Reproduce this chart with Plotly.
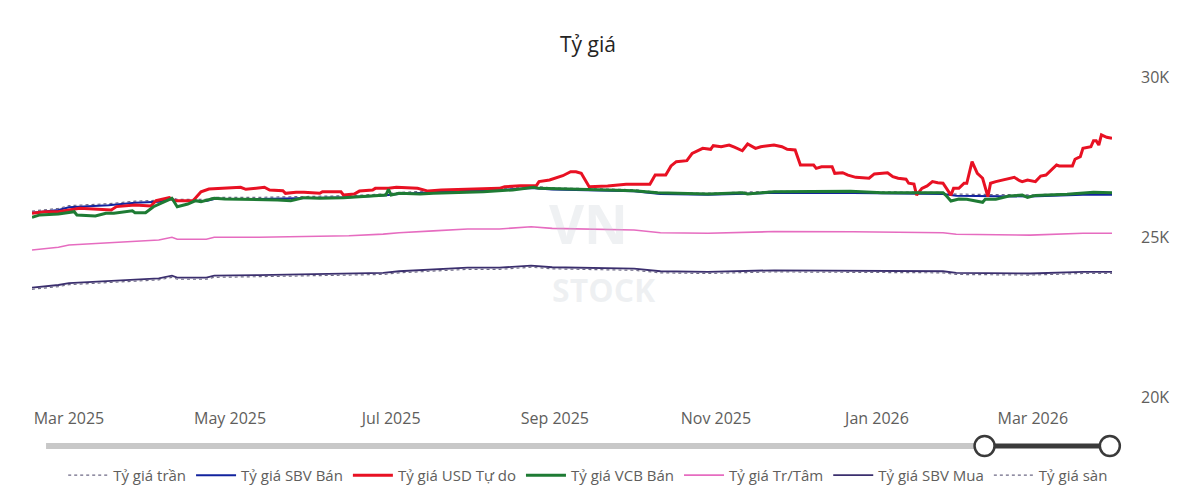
import plotly.graph_objects as go

# ---------------- data ----------------
ref_dates = ["2025-03-01", "2025-03-11", "2025-03-15", "2025-03-30", "2025-04-09", "2025-04-18",
             "2025-04-23", "2025-04-25", "2025-05-06", "2025-05-09", "2025-05-26", "2025-06-12",
             "2025-06-29", "2025-07-12", "2025-07-18", "2025-07-31", "2025-08-13", "2025-08-25",
             "2025-09-06", "2025-09-14", "2025-09-25", "2025-10-15", "2025-10-25", "2025-11-12",
             "2025-12-07", "2026-01-06", "2026-02-09", "2026-02-14", "2026-03-14", "2026-04-03",
             "2026-04-14"]

tran = [25810, 25895, 25980, 26040, 26120, 26150, 26240, 26175, 26175, 26240, 26240, 26260,
        26290, 26345, 26390, 26450, 26510, 26510, 26585, 26535, 26510, 26480, 26390, 26370,
        26430, 26425, 26390, 26340, 26315, 26370, 26370]

sbv_ban = [25760, 25845, 25930, 25990, 26070, 26100, 26190, 26125, 26125, 26190, 26190, 26210,
           26240, 26295, 26340, 26400, 26460, 26460, 26535, 26485, 26460, 26430, 26340, 26320,
           26380, 26375, 26340, 26290, 26265, 26320, 26320]

trung_tam = [24595, 24680, 24750, 24820, 24865, 24905, 24990, 24930, 24930, 24990, 24990, 25010,
             25040, 25090, 25135, 25190, 25250, 25250, 25320, 25270, 25250, 25220, 25135, 25115,
             25170, 25165, 25135, 25085, 25060, 25115, 25115]

sbv_mua = [23415, 23500, 23560, 23635, 23680, 23710, 23790, 23730, 23730, 23790, 23810, 23835,
           23840, 23880, 23930, 23980, 24040, 24040, 24105, 24055, 24040, 24010, 23930, 23910,
           23960, 23955, 23930, 23880, 23860, 23910, 23910]

san = [23365, 23450, 23510, 23585, 23630, 23660, 23740, 23680, 23680, 23740, 23760, 23785,
       23790, 23830, 23880, 23930, 23990, 23990, 24055, 24005, 23990, 23960, 23880, 23860,
       23910, 23905, 23880, 23830, 23810, 23860, 23860]

usd_dates = ["2025-03-01", "2025-03-06", "2025-03-11", "2025-03-15", "2025-03-19", "2025-03-31",
             "2025-04-02", "2025-04-09", "2025-04-15", "2025-04-17", "2025-04-22", "2025-04-24",
             "2025-05-01", "2025-05-04", "2025-05-07", "2025-05-19", "2025-05-21", "2025-05-28",
             "2025-05-30", "2025-06-04", "2025-06-05", "2025-06-09", "2025-06-12", "2025-06-18",
             "2025-06-19", "2025-06-26", "2025-06-27", "2025-07-01", "2025-07-03", "2025-07-08",
             "2025-07-09", "2025-07-14", "2025-07-17", "2025-07-25", "2025-07-29", "2025-08-03",
             "2025-08-13", "2025-08-25", "2025-08-27", "2025-09-02", "2025-09-08", "2025-09-09",
             "2025-09-13", "2025-09-18", "2025-09-21", "2025-09-23", "2025-09-25", "2025-09-28",
             "2025-10-05", "2025-10-12", "2025-10-21", "2025-10-23", "2025-10-27", "2025-10-29",
             "2025-10-31", "2025-11-04", "2025-11-06", "2025-11-10", "2025-11-13", "2025-11-14",
             "2025-11-17", "2025-11-20", "2025-11-22", "2025-11-25", "2025-11-27", "2025-11-30",
             "2025-12-02", "2025-12-07", "2025-12-10", "2025-12-12", "2025-12-15", "2025-12-17",
             "2025-12-22", "2025-12-23", "2025-12-25", "2025-12-29", "2025-12-30", "2026-01-02",
             "2026-01-04", "2026-01-07", "2026-01-12", "2026-01-14", "2026-01-19", "2026-01-21",
             "2026-01-23", "2026-01-26", "2026-01-27", "2026-01-29", "2026-01-30", "2026-02-01",
             "2026-02-03", "2026-02-05", "2026-02-07", "2026-02-09", "2026-02-12", "2026-02-13",
             "2026-02-15", "2026-02-17", "2026-02-18", "2026-02-20", "2026-02-22", "2026-02-24",
             "2026-02-26", "2026-02-27", "2026-03-01", "2026-03-08", "2026-03-10", "2026-03-11",
             "2026-03-13", "2026-03-16", "2026-03-18", "2026-03-20", "2026-03-24", "2026-03-25",
             "2026-03-30", "2026-03-31", "2026-04-02", "2026-04-03", "2026-04-06", "2026-04-07",
             "2026-04-08", "2026-04-09", "2026-04-10", "2026-04-12", "2026-04-14"]

usd_tu_do = [25740, 25790, 25790, 25845, 25900, 25845,
             25950, 26000, 25970, 26135, 26230, 26135,
             26135, 26415, 26500, 26555, 26490, 26555,
             26470, 26445, 26365, 26395, 26395, 26365,
             26415, 26415, 26310, 26345, 26435, 26470,
             26520, 26520, 26555, 26520, 26435, 26470,
             26490, 26520, 26570, 26605, 26605, 26730,
             26780, 26915, 27040, 27040, 26990, 26570,
             26595, 26645, 26645, 26935, 26935, 27220,
             27355, 27385, 27615, 27770, 27740, 27855,
             27820, 27875, 27805, 27695, 27905, 27770,
             27820, 27875, 27820, 27740, 27720, 27250,
             27250, 27145, 27195, 27195, 26990, 27010,
             26935, 26865, 26835, 26970, 27010, 26885,
             26835, 26805, 26680, 26655, 26310, 26520,
             26595, 26730, 26695, 26680, 26310, 26520,
             26520, 26680, 26680, 27355, 26990, 26835,
             26260, 26680, 26730, 26865, 26760, 26730,
             26780, 26730, 26905, 26935, 27250, 27220,
             27220, 27430, 27510, 27770, 27820, 28010,
             28010, 27875, 28190, 28115, 28085]

vcb_dates = ["2025-03-01", "2025-03-04", "2025-03-11", "2025-03-17", "2025-03-18", "2025-03-25",
             "2025-03-29", "2025-04-01", "2025-04-08", "2025-04-09", "2025-04-13", "2025-04-16",
             "2025-04-20", "2025-04-23", "2025-04-25", "2025-04-29", "2025-05-02", "2025-05-04",
             "2025-05-09", "2025-05-13", "2025-06-02", "2025-06-07", "2025-06-12", "2025-06-18",
             "2025-06-27", "2025-07-06", "2025-07-13", "2025-07-14", "2025-07-15", "2025-07-18",
             "2025-07-26", "2025-07-31", "2025-08-09", "2025-08-19", "2025-08-30", "2025-09-07",
             "2025-09-09", "2025-09-23", "2025-10-05", "2025-10-15", "2025-10-24", "2025-11-12",
             "2025-11-25", "2025-11-27", "2025-12-07", "2026-01-05", "2026-01-17", "2026-02-09",
             "2026-02-10", "2026-02-12", "2026-02-15", "2026-02-18", "2026-02-24", "2026-02-25",
             "2026-03-01", "2026-03-06", "2026-03-11", "2026-03-13", "2026-03-16", "2026-03-28",
             "2026-04-07", "2026-04-14"]

vcb_ban = [25615, 25690, 25720, 25790, 25690, 25655,
           25740, 25740, 25820, 25760, 25760, 25945,
           26100, 26210, 25945, 26030, 26135, 26100,
           26210, 26190, 26155, 26135, 26230, 26210,
           26230, 26280, 26310, 26490, 26310, 26365,
           26340, 26365, 26385, 26415, 26470, 26555,
           26520, 26500, 26470, 26445, 26385, 26345,
           26385, 26345, 26415, 26430, 26385, 26385,
           26310, 26125, 26185, 26180, 26085, 26180,
           26180, 26280, 26310, 26240, 26300, 26335,
           26395, 26385]

tick_dates = ["2025-03-15", "2025-05-15", "2025-07-15", "2025-09-15",
              "2025-11-15", "2026-01-15", "2026-03-15"]
tick_labels = ["Mar 2025", "May 2025", "Jul 2025", "Sep 2025",
               "Nov 2025", "Jan 2026", "Mar 2026"]
y_ticks = [20000, 25000, 30000]
y_labels = ["20K", "25K", "30K"]

# ---------------- figure ----------------
FONT = "Open Sans, DejaVu Sans, sans-serif"
fig = go.Figure()

fig.add_trace(go.Scatter(x=ref_dates, y=tran, name="Tỷ giá trần", mode="lines",
                         line=dict(color="#6E6A86", width=1.2, dash="dot")))
fig.add_trace(go.Scatter(x=ref_dates, y=sbv_ban, name="Tỷ giá SBV Bán", mode="lines",
                         line=dict(color="#12239E", width=2)))
fig.add_trace(go.Scatter(x=usd_dates, y=usd_tu_do, name="Tỷ giá USD Tự do", mode="lines",
                         line=dict(color="#E81123", width=3)))
fig.add_trace(go.Scatter(x=vcb_dates, y=vcb_ban, name="Tỷ giá VCB Bán", mode="lines",
                         line=dict(color="#1E7B34", width=3)))
fig.add_trace(go.Scatter(x=ref_dates, y=trung_tam, name="Tỷ giá Tr/Tâm", mode="lines",
                         line=dict(color="#E66CC0", width=1.6)))
fig.add_trace(go.Scatter(x=ref_dates, y=sbv_mua, name="Tỷ giá SBV Mua", mode="lines",
                         line=dict(color="#3B2F6E", width=1.8)))
fig.add_trace(go.Scatter(x=ref_dates, y=san, name="Tỷ giá sàn", mode="lines",
                         line=dict(color="#6E6A86", width=1.2, dash="dot")))

# slider decoration (below the plot)
sy = -0.153
shapes = [
    dict(type="line", xref="paper", yref="paper", x0=0.013, x1=0.882, y0=sy, y1=sy,
         line=dict(color="#C8C8C8", width=6)),
    dict(type="line", xref="paper", yref="paper", x0=0.882, x1=0.998, y0=sy, y1=sy,
         line=dict(color="#3A3A3A", width=5)),
]
for cx in (0.882, 0.998):
    shapes.append(dict(type="circle", xref="paper", yref="paper",
                       xsizemode="pixel", ysizemode="pixel", xanchor=cx, yanchor=sy,
                       x0=-10, x1=10, y0=-10, y1=10,
                       fillcolor="white", line=dict(color="#3A3A3A", width=2.5)))

annotations = [
    dict(text="<b>VN</b>", xref="paper", yref="paper", x=0.515, y=0.545, showarrow=False,
         font=dict(size=54, color="rgba(190,198,206,0.25)", family=FONT)),
    dict(text="<b>STOCK</b>", xref="paper", yref="paper", x=0.53, y=0.335, showarrow=False,
         font=dict(size=32, color="rgba(190,198,206,0.25)", family=FONT)),
]

fig.update_layout(
    width=1200, height=498,
    margin=dict(l=32, r=88, t=77, b=101, autoexpand=False),
    paper_bgcolor="white", plot_bgcolor="white",
    font=dict(family=FONT, color="#605E5C"),
    title=dict(text="Tỷ giá", x=0.49, xanchor="center", y=0.91, yanchor="middle",
               font=dict(size=21, color="#252423", family=FONT)),
    showlegend=True,
    legend=dict(orientation="h", x=0.515, xanchor="center", y=-0.245, yanchor="middle",
                font=dict(size=15, color="#605E5C"), itemwidth=40,
                bgcolor="rgba(0,0,0,0)", tracegroupgap=0),
    shapes=shapes,
    annotations=annotations,
    hovermode="x unified",
)

fig.update_xaxes(range=["2025-03-01", "2026-04-14"], showgrid=False, zeroline=False,
                 showline=False, tickmode="array", tickvals=tick_dates, ticktext=tick_labels,
                 ticks="", ticklabelstandoff=10, automargin=False,
                 tickfont=dict(size=16, color="#605E5C"))
fig.update_yaxes(range=[20000, 30000], side="right", showgrid=False, zeroline=False,
                 showline=False, tickmode="array", tickvals=y_ticks, ticktext=y_labels,
                 ticks="", ticklabelstandoff=28, automargin=False,
                 tickfont=dict(size=16, color="#605E5C"))

fig.write_html("out.html")
